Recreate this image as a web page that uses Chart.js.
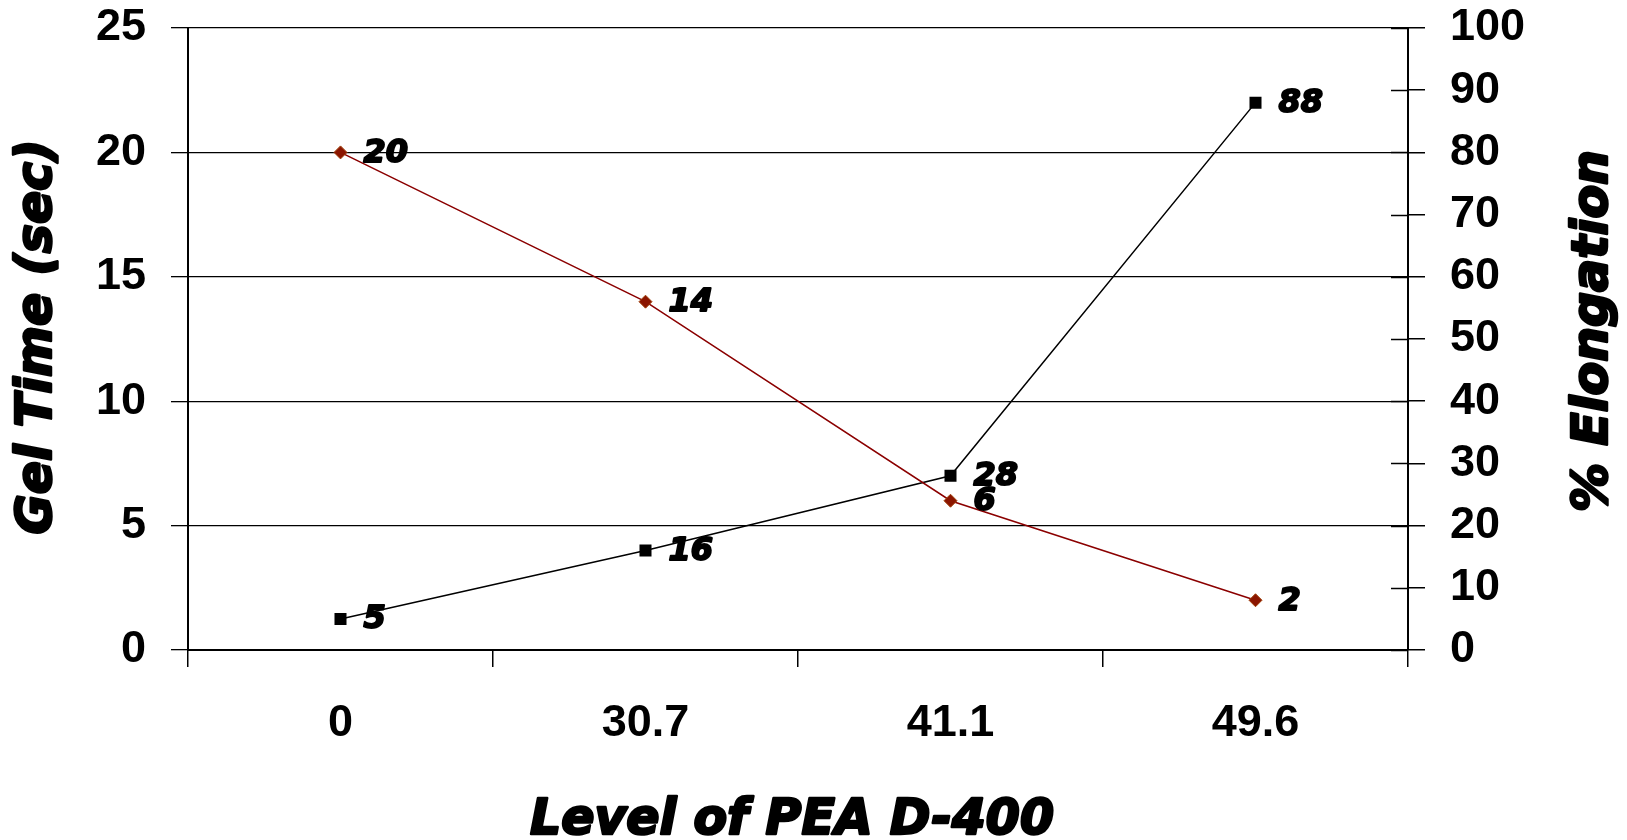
<!DOCTYPE html>
<html>
<head>
<meta charset="utf-8">
<script src="https://cdn.jsdelivr.net/npm/chart.js@4/dist/chart.umd.min.js"></script>
<style>
html,body{margin:0;padding:0;background:#ffffff;}
#wrap{width:1627px;height:840px;}
</style>
</head>
<body>
<div id="wrap"><canvas id="c" width="1627" height="840"></canvas></div>
<script>
// ---- data ----
const categories = ['0', '30.7', '41.1', '49.6'];
const gelTime = [20, 14, 6, 2];          // left axis (sec)
const elongation = [5, 16, 28, 88];      // right axis (%)
const gelAxisMax = 25;
const gelAxisStep = 5;
const elongAxisMax = 100;
const elongAxisStep = 10;
const xTitle = 'Level of PEA D-400';
const yLeftTitle = 'Gel Time (sec)';
const yRightTitle = '% Elongation';

const TICK_FONT = {family: '"Liberation Sans", Arial, sans-serif', size: 45, weight: 'bold'};
const TITLE_FONT = 'italic bold 49px "DejaVu Sans", sans-serif';
const LABEL_FONT = 'italic bold 32px "DejaVu Sans", sans-serif';

function heavyText(ctx, text, x, y, w) {
  ctx.lineWidth = w;
  ctx.lineJoin = 'round';
  ctx.strokeStyle = '#000';
  ctx.strokeText(text, x, y);
  ctx.fillText(text, x, y);
}

const extrasPlugin = {
  id: 'extras',
  afterDraw(chart) {
    const ctx = chart.ctx;
    const area = chart.chartArea;
    // inner tick marks on the right axis
    const y1 = chart.scales.y1;
    ctx.save();
    ctx.strokeStyle = '#000';
    ctx.lineWidth = 1.5;
    y1.ticks.forEach(t => {
      const py = Math.round(y1.getPixelForValue(t.value)) + 0.5;
      ctx.beginPath();
      ctx.moveTo(area.right - 17, py);
      ctx.lineTo(area.right, py);
      ctx.stroke();
    });
    ctx.restore();

    // data labels
    ctx.save();
    ctx.font = LABEL_FONT;
    ctx.fillStyle = '#000';
    ctx.textAlign = 'left';
    ctx.textBaseline = 'middle';
    chart.data.datasets.forEach((ds, i) => {
      const meta = chart.getDatasetMeta(i);
      meta.data.forEach((el, j) => {
        heavyText(ctx, String(ds.data[j]), el.x + 23, el.y + 1, 2);
      });
    });
    ctx.restore();

    // axis titles
    ctx.save();
    ctx.font = TITLE_FONT;
    ctx.fillStyle = '#000';
    ctx.textAlign = 'center';
    ctx.textBaseline = 'middle';
    const cx = (area.left + area.right) / 2;
    heavyText(ctx, xTitle, cx - 6, 821, 2.5);
    ctx.save();
    ctx.translate(38, 337);
    ctx.rotate(-Math.PI / 2);
    heavyText(ctx, yLeftTitle, 0, 0, 2.5);
    ctx.restore();
    ctx.save();
    ctx.translate(1594, 331);
    ctx.rotate(-Math.PI / 2);
    heavyText(ctx, yRightTitle, 0, 0, 2.5);
    ctx.restore();
    ctx.restore();
  }
};

function noPad(scale) {
  scale.paddingTop = 0;
  scale.paddingBottom = 0;
}

new Chart(document.getElementById('c'), {
  type: 'line',
  data: {
    labels: categories,
    datasets: [
      {
        label: 'Gel Time (sec)',
        data: gelTime,
        yAxisID: 'y',
        borderColor: '#8B0000',
        borderWidth: 1.5,
        pointStyle: 'rectRot',
        pointRadius: 6.5,
        pointHoverRadius: 6.5,
        pointBackgroundColor: '#8B1500',
        pointBorderColor: '#A0400A',
        pointBorderWidth: 1,
        tension: 0,
        fill: false
      },
      {
        label: '% Elongation',
        data: elongation,
        yAxisID: 'y1',
        borderColor: '#000000',
        borderWidth: 1.5,
        pointStyle: 'rect',
        pointRadius: 8.5,
        pointHoverRadius: 8.5,
        pointBackgroundColor: '#000000',
        pointBorderColor: '#000000',
        pointBorderWidth: 0,
        tension: 0,
        fill: false
      }
    ]
  },
  options: {
    responsive: false,
    animation: false,
    devicePixelRatio: 1,
    layout: {padding: {top: 28, left: 0, right: 0, bottom: 0}},
    plugins: {
      legend: {display: false},
      tooltip: {enabled: false},
      title: {display: false}
    },
    scales: {
      x: {
        type: 'category',
        offset: true,
        grid: {
          display: true,
          offset: true,
          drawOnChartArea: false,
          drawTicks: true,
          tickLength: 17,
          color: '#000',
          lineWidth: 1.5
        },
        border: {display: true, color: '#000', width: 2},
        ticks: {font: TICK_FONT, color: '#000', padding: 30, maxRotation: 0},
        afterFit(scale) { scale.height = 190; scale.paddingLeft = 0; scale.paddingRight = 0; }
      },
      y: {
        position: 'left',
        min: 0,
        max: gelAxisMax,
        ticks: {stepSize: gelAxisStep, font: TICK_FONT, color: '#000', padding: 25},
        grid: {color: '#000', lineWidth: 1.3, tickLength: 17, drawTicks: true},
        border: {display: true, color: '#000', width: 2},
        afterFit(scale) { scale.width = 188; noPad(scale); }
      },
      y1: {
        position: 'right',
        min: 0,
        max: elongAxisMax,
        ticks: {stepSize: elongAxisStep, font: TICK_FONT, color: '#000', padding: 25},
        grid: {drawOnChartArea: false, color: '#000', lineWidth: 1.5, tickLength: 17, drawTicks: true},
        border: {display: true, color: '#000', width: 2},
        afterFit(scale) { scale.width = 219; noPad(scale); }
      }
    }
  },
  plugins: [extrasPlugin]
});
</script>
</body>
</html>
